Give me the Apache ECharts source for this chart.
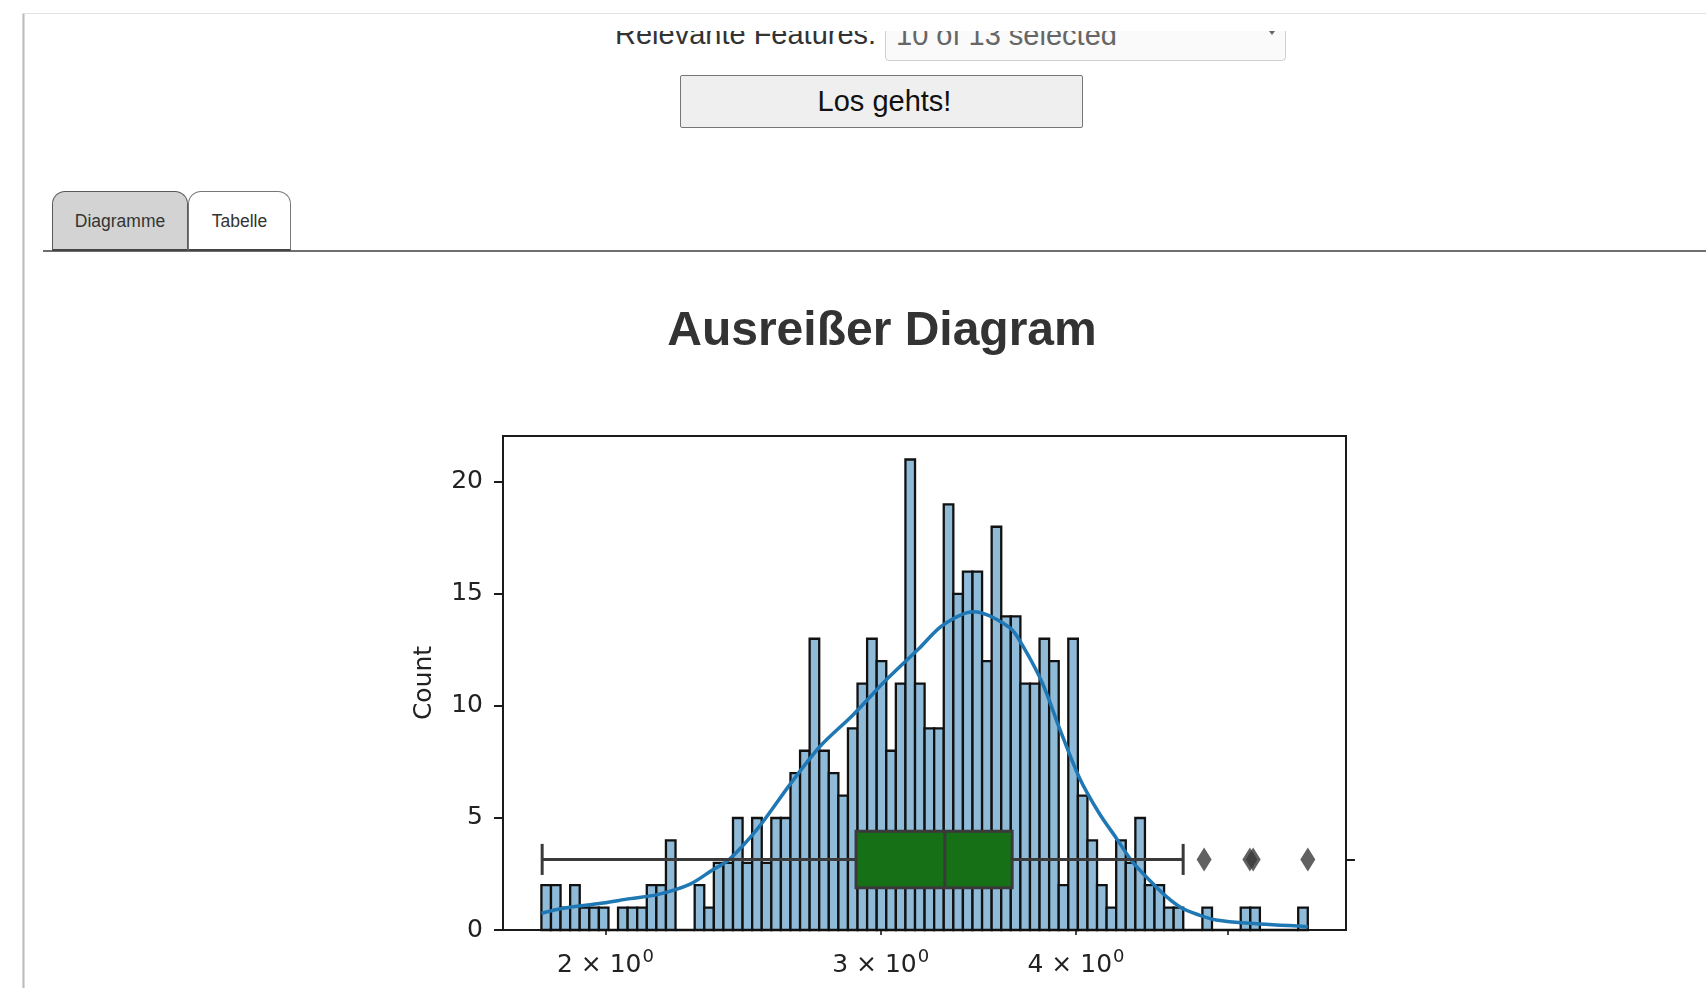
<!DOCTYPE html>
<html>
<head>
<meta charset="utf-8">
<script src="https://cdn.jsdelivr.net/npm/echarts/dist/echarts.min.js"></script>
<style>
  html, body { margin: 0; padding: 0; background: #fff; }
  body { width: 1706px; height: 988px; position: relative; overflow: hidden;
         font-family: "Liberation Sans", Arial, Helvetica, sans-serif; }
  .card-left { position: absolute; left: 22px; top: 13px; width: 3px; bottom: 0;
               background: linear-gradient(to right, #e4e4e4, #bdbdbd, #e9e9e9); }
  .card-top { position: absolute; left: 22px; top: 13px; right: 0; height: 1px; background: #e3e3e3; }
  .clip { position: absolute; left: 0; top: 31px; right: 0; height: 40px; overflow: hidden; }
  .lbl { position: absolute; left: 615px; top: -11px; font-size: 29px; line-height: 29px; color: #333; white-space: nowrap; }
  .dd { position: absolute; left: 885px; top: -31px; width: 401px; height: 61px; box-sizing: border-box;
        border: 1px solid #cfcfcf; border-radius: 4px; background: #fafafa; }
  .dd span { position: absolute; left: 10px; top: 20px; font-size: 29px; line-height: 29px; color: #666; white-space: nowrap; }
  .dd i { position: absolute; right: 10px; top: 30px; width: 0; height: 0;
          border-left: 3px solid transparent; border-right: 3px solid transparent; border-top: 4px solid #666; }
  .btn { position: absolute; left: 680px; top: 75px; width: 403px; height: 53px; box-sizing: border-box;
         border: 1px solid #767676; border-radius: 2px; background: #efefef;
         font-size: 29px; line-height: 51px; text-align: center; color: #111; padding-left: 6px; }
  .tabline { position: absolute; left: 43px; top: 250px; right: 0; height: 1.5px; background: #6f6f6f; }
  .tab { position: absolute; top: 191px; height: 60px; box-sizing: border-box;
         border: 1px solid #777; border-bottom: 2px solid #444; border-radius: 13px 13px 0 0;
         font-size: 17.5px; line-height: 58px; text-align: center; color: #333; }
  .tab.active { left: 52px; width: 136px; background: #d3d3d3; border-color: #5a5a5a; border-bottom-color: #444; }
  .tab.plain { left: 188px; width: 103px; background: #fff; }
  #chart { position: absolute; left: 58px; top: 251px; width: 1648px; height: 737px; }
</style>
</head>
<body>
<div class="card-left"></div>
<div class="card-top"></div>
<div class="clip">
  <div class="lbl">Relevante Features:</div>
  <div class="dd"><span>10 of 13 selected</span><i></i></div>
</div>
<div class="btn">Los gehts!</div>
<div class="tabline"></div>
<div class="tab active">Diagramme</div>
<div class="tab plain">Tabelle</div>
<div id="chart"></div>

<script>
// histogram: 80 log-spaced bins between the first and last edge
const binRange = [1.82, 5.628];
const binCounts = [
  2, 2, 1, 2, 1, 1, 1, 0, 1, 1, 1, 2, 2, 4, 0, 0, 2, 1, 3,
  3, 5, 3, 5, 3, 5, 5, 7, 8, 13, 8, 7, 6, 9, 11, 13, 12, 8, 11, 21, 11,
  9, 9, 19, 15, 16, 16, 12, 18, 14, 14, 11, 11, 13, 12, 2, 13, 6, 4, 2, 1,
  4, 3, 5, 2, 2, 1, 1, 0, 0, 1, 0, 0, 0, 1, 1, 0, 0, 0, 0, 1
];

// kde curve (x in data units, y in counts)
const kdeX = [1.82, 1.88, 1.977, 2.075, 2.159, 2.266, 2.344, 2.396, 2.501, 2.625, 2.744, 2.88, 3.028,
  3.178, 3.287, 3.44, 3.627, 3.697, 3.808, 3.904, 4.02, 4.14, 4.245, 4.346, 4.456, 4.568, 4.677,
  4.795, 4.917, 5.163, 5.628];
const kdeY = [0.75, 0.97, 1.17, 1.4, 1.58, 2.05, 2.7, 3.1, 4.5, 6.5, 8.2, 9.6, 11.2,
  12.6, 13.6, 14.2, 13.5, 12.7, 11.0, 9.0, 6.8, 5.2, 4.1, 3.05, 2.23, 1.5, 0.97,
  0.67, 0.45, 0.3, 0.15];

// boxplot: low whisker, q1, median, q3, high whisker
const boxStats = [1.822, 2.893, 3.297, 3.641, 4.684];
const outliers = [4.831, 5.168, 5.193, 5.628];

const xTicks = [2, 3, 4, 5];
const xLabels = [2, 3, 4];
const yTicks = [0, 5, 10, 15, 20];

const lg = Math.log10;
const logLo = lg(binRange[0]);
const step = (lg(binRange[1]) - logLo) / binCounts.length;
const barData = binCounts.map((c, i) => [logLo + i * step, logLo + (i + 1) * step, c]);

const axisColor = '#1a1a1a';
const tickFont = { fontFamily: 'DejaVu Sans', fontSize: 25, color: '#222' };

function renderBar(params, api) {
  const p0 = api.coord([api.value(0), api.value(2)]);
  const p1 = api.coord([api.value(1), 0]);
  return {
    type: 'rect',
    shape: { x: p0[0], y: p0[1], width: p1[0] - p0[0], height: p1[1] - p0[1] },
    style: { fill: '#8fbbd9', stroke: '#111', lineWidth: 2.3 }
  };
}

function renderBox(params, api) {
  const v = [0, 1, 2, 3, 4].map(i => api.value(i));
  const pt = (x, y) => api.coord([x, y]);
  const line = (a, b) => ({
    type: 'line',
    shape: { x1: a[0], y1: a[1], x2: b[0], y2: b[1] },
    style: { stroke: '#3a3a3a', lineWidth: 3 }
  });
  const tl = pt(v[1], 0.4), br = pt(v[3], -0.4);
  return {
    type: 'group',
    children: [
      line(pt(v[0], 0), pt(v[1], 0)),
      line(pt(v[3], 0), pt(v[4], 0)),
      line(pt(v[0], 0.22), pt(v[0], -0.22)),
      line(pt(v[4], 0.22), pt(v[4], -0.22)),
      {
        type: 'rect',
        shape: { x: tl[0], y: tl[1], width: br[0] - tl[0], height: br[1] - tl[1] },
        style: { fill: 'rgb(22,112,22)', stroke: '#3a3a3a', lineWidth: 3 }
      },
      line(pt(v[2], 0.4), pt(v[2], -0.4))
    ]
  };
}

const chart = echarts.init(document.getElementById('chart'));
chart.setOption({
  animation: false,
  title: {
    text: 'Ausreißer Diagram',
    left: 'center',
    top: 52,
    textStyle: { fontFamily: 'Liberation Sans, Arial', fontSize: 48, fontWeight: 'bold', color: '#333' }
  },
  grid: {
    left: 445, top: 185, width: 843, height: 494,
    show: true, borderColor: axisColor, borderWidth: 2,
    outerBoundsMode: 'none'
  },
  xAxis: {
    type: 'value',
    min: 0.2355,
    max: 0.7748,
    axisLine: { show: true, lineStyle: { color: axisColor, width: 2 } },
    axisTick: { show: true, customValues: xTicks.map(lg), length: 5, lineStyle: { color: axisColor, width: 1.6 } },
    axisLabel: {
      customValues: xLabels.map(lg),
      formatter: v => '{a|' + Math.round(Math.pow(10, v)) + ' × 10}{s|0}',
      margin: 18,
      rich: {
        a: { fontFamily: 'DejaVu Sans', fontSize: 25, color: '#222', lineHeight: 30, verticalAlign: 'bottom' },
        s: { fontFamily: 'DejaVu Sans', fontSize: 18, color: '#222', lineHeight: 30, verticalAlign: 'top', padding: [0, 0, 0, 1] }
      }
    },
    splitLine: { show: false }
  },
  yAxis: [
    {
      type: 'value',
      min: 0,
      max: 22.05,
      name: 'Count',
      nameLocation: 'middle',
      nameGap: 66,
      nameTextStyle: { fontFamily: 'DejaVu Sans', fontSize: 25, color: '#222' },
      axisLine: { show: true, lineStyle: { color: axisColor, width: 2 } },
      axisTick: { show: true, customValues: yTicks, length: 9, lineStyle: { color: axisColor, width: 2 } },
      axisLabel: { customValues: yTicks, margin: 20, ...tickFont },
      splitLine: { show: false }
    },
    {
      type: 'value',
      position: 'right',
      min: -1,
      max: 6,
      axisLine: { show: true, lineStyle: { color: axisColor, width: 2 } },
      axisTick: { show: true, customValues: [0], length: 9, lineStyle: { color: axisColor, width: 2 } },
      axisLabel: { show: false },
      splitLine: { show: false }
    }
  ],
  series: [
    {
      type: 'custom',
      name: 'hist',
      xAxisIndex: 0,
      yAxisIndex: 0,
      renderItem: renderBar,
      encode: { x: [0, 1], y: 2 },
      data: barData,
      z: 2
    },
    {
      type: 'line',
      name: 'kde',
      xAxisIndex: 0,
      yAxisIndex: 0,
      data: kdeX.map((x, i) => [lg(x), kdeY[i]]),
      smooth: 0.3,
      showSymbol: false,
      symbol: 'none',
      lineStyle: { color: '#1f77b4', width: 3.5 },
      z: 3
    },
    {
      type: 'custom',
      name: 'box',
      xAxisIndex: 0,
      yAxisIndex: 1,
      renderItem: renderBox,
      encode: { x: [0, 1, 2, 3, 4] },
      data: [boxStats.map(lg)],
      z: 4
    },
    {
      type: 'scatter',
      name: 'outliers',
      xAxisIndex: 0,
      yAxisIndex: 1,
      symbol: 'diamond',
      symbolSize: [15, 24],
      itemStyle: { color: '#3a3a3a' },
      data: outliers.map(v => [lg(v), 0]),
      z: 5
    }
  ]
});
</script>
</body>
</html>
